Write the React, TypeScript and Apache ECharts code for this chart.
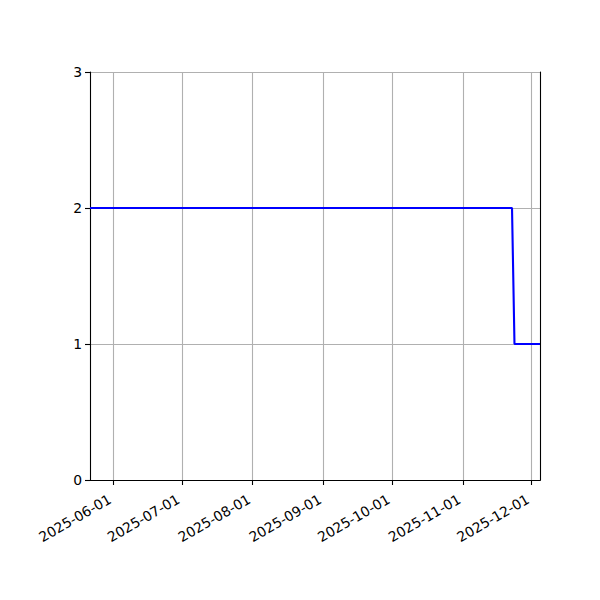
import { useEffect, useRef } from "react";
import * as echarts from "echarts";

// step series (UTC timestamps)
const pointDates = ["2025-05-21T19:00:00Z", "2025-11-22T12:00:00Z", "2025-11-23T14:00:00Z", "2025-12-04T18:00:00Z"];
const pointValues = [2, 2, 1, 1];
const tickLabels = ["2025-06-01", "2025-07-01", "2025-08-01", "2025-09-01", "2025-10-01", "2025-11-01", "2025-12-01"];
const yTicks = [0, 1, 2, 3];

const FONT = "DejaVu Sans, sans-serif";

export default function App() {
  const containerRef = useRef<HTMLDivElement>(null);

  useEffect(() => {
    const container = containerRef.current;
    if (!container) return;
    const chart = echarts.init(container, undefined, { renderer: "svg" });

    const times = pointDates.map((d) => Date.parse(d));
    const tickTimes = tickLabels.map((d) => Date.parse(d));
    const labelByTime = new Map(tickTimes.map((t, i) => [t, tickLabels[i]]));
    const xMin = times[0];
    const xMax = times[times.length - 1];

    const axisLine = { show: true, lineStyle: { color: "#000", width: 1.1 } };
    const gridLine = { show: true, lineStyle: { color: "#b0b0b0", width: 1.1 } };

    chart.setOption({
      animation: false,
      backgroundColor: "#fff",
      grid: { left: 90, right: 60, top: 72, bottom: 120, containLabel: false },
      xAxis: [
        {
          type: "value",
          min: xMin,
          max: xMax,
          position: "bottom",
          axisLine,
          axisTick: { show: true, length: 5, lineStyle: { color: "#000", width: 1.1 }, customValues: tickTimes },
          axisLabel: {
            customValues: tickTimes,
            rotate: 30,
            align: "right",
            verticalAlign: "bottom",
            margin: 24,
            color: "#000",
            fontSize: 13.9,
            fontFamily: FONT,
            formatter: (v: number) => labelByTime.get(v) ?? "",
          },
          splitLine: gridLine,
        },
        {
          type: "value",
          min: xMin,
          max: xMax,
          position: "top",
          axisLine,
          axisTick: { show: false },
          axisLabel: { show: false },
          splitLine: { show: false },
        },
      ],
      yAxis: [
        {
          type: "value",
          min: yTicks[0],
          max: yTicks[yTicks.length - 1],
          interval: 1,
          axisLine,
          axisTick: { show: true, length: 5, lineStyle: { color: "#000", width: 1.1 } },
          axisLabel: { color: "#000", fontSize: 13.9, fontFamily: FONT, margin: 8 },
          splitLine: gridLine,
        },
        {
          type: "value",
          min: yTicks[0],
          max: yTicks[yTicks.length - 1],
          position: "right",
          axisLine,
          axisTick: { show: false },
          axisLabel: { show: false },
          splitLine: { show: false },
        },
      ],
      series: [
        {
          type: "line",
          data: times.map((t, i) => [t, pointValues[i]]),
          showSymbol: false,
          lineStyle: { color: "#0000ff", width: 2.1 },
          z: 3,
        },
      ],
    });

    return () => chart.dispose();
  }, []);

  return <div ref={containerRef} style={{ position: "fixed", left: 0, top: 0, width: 600, height: 600 }} />;
}
